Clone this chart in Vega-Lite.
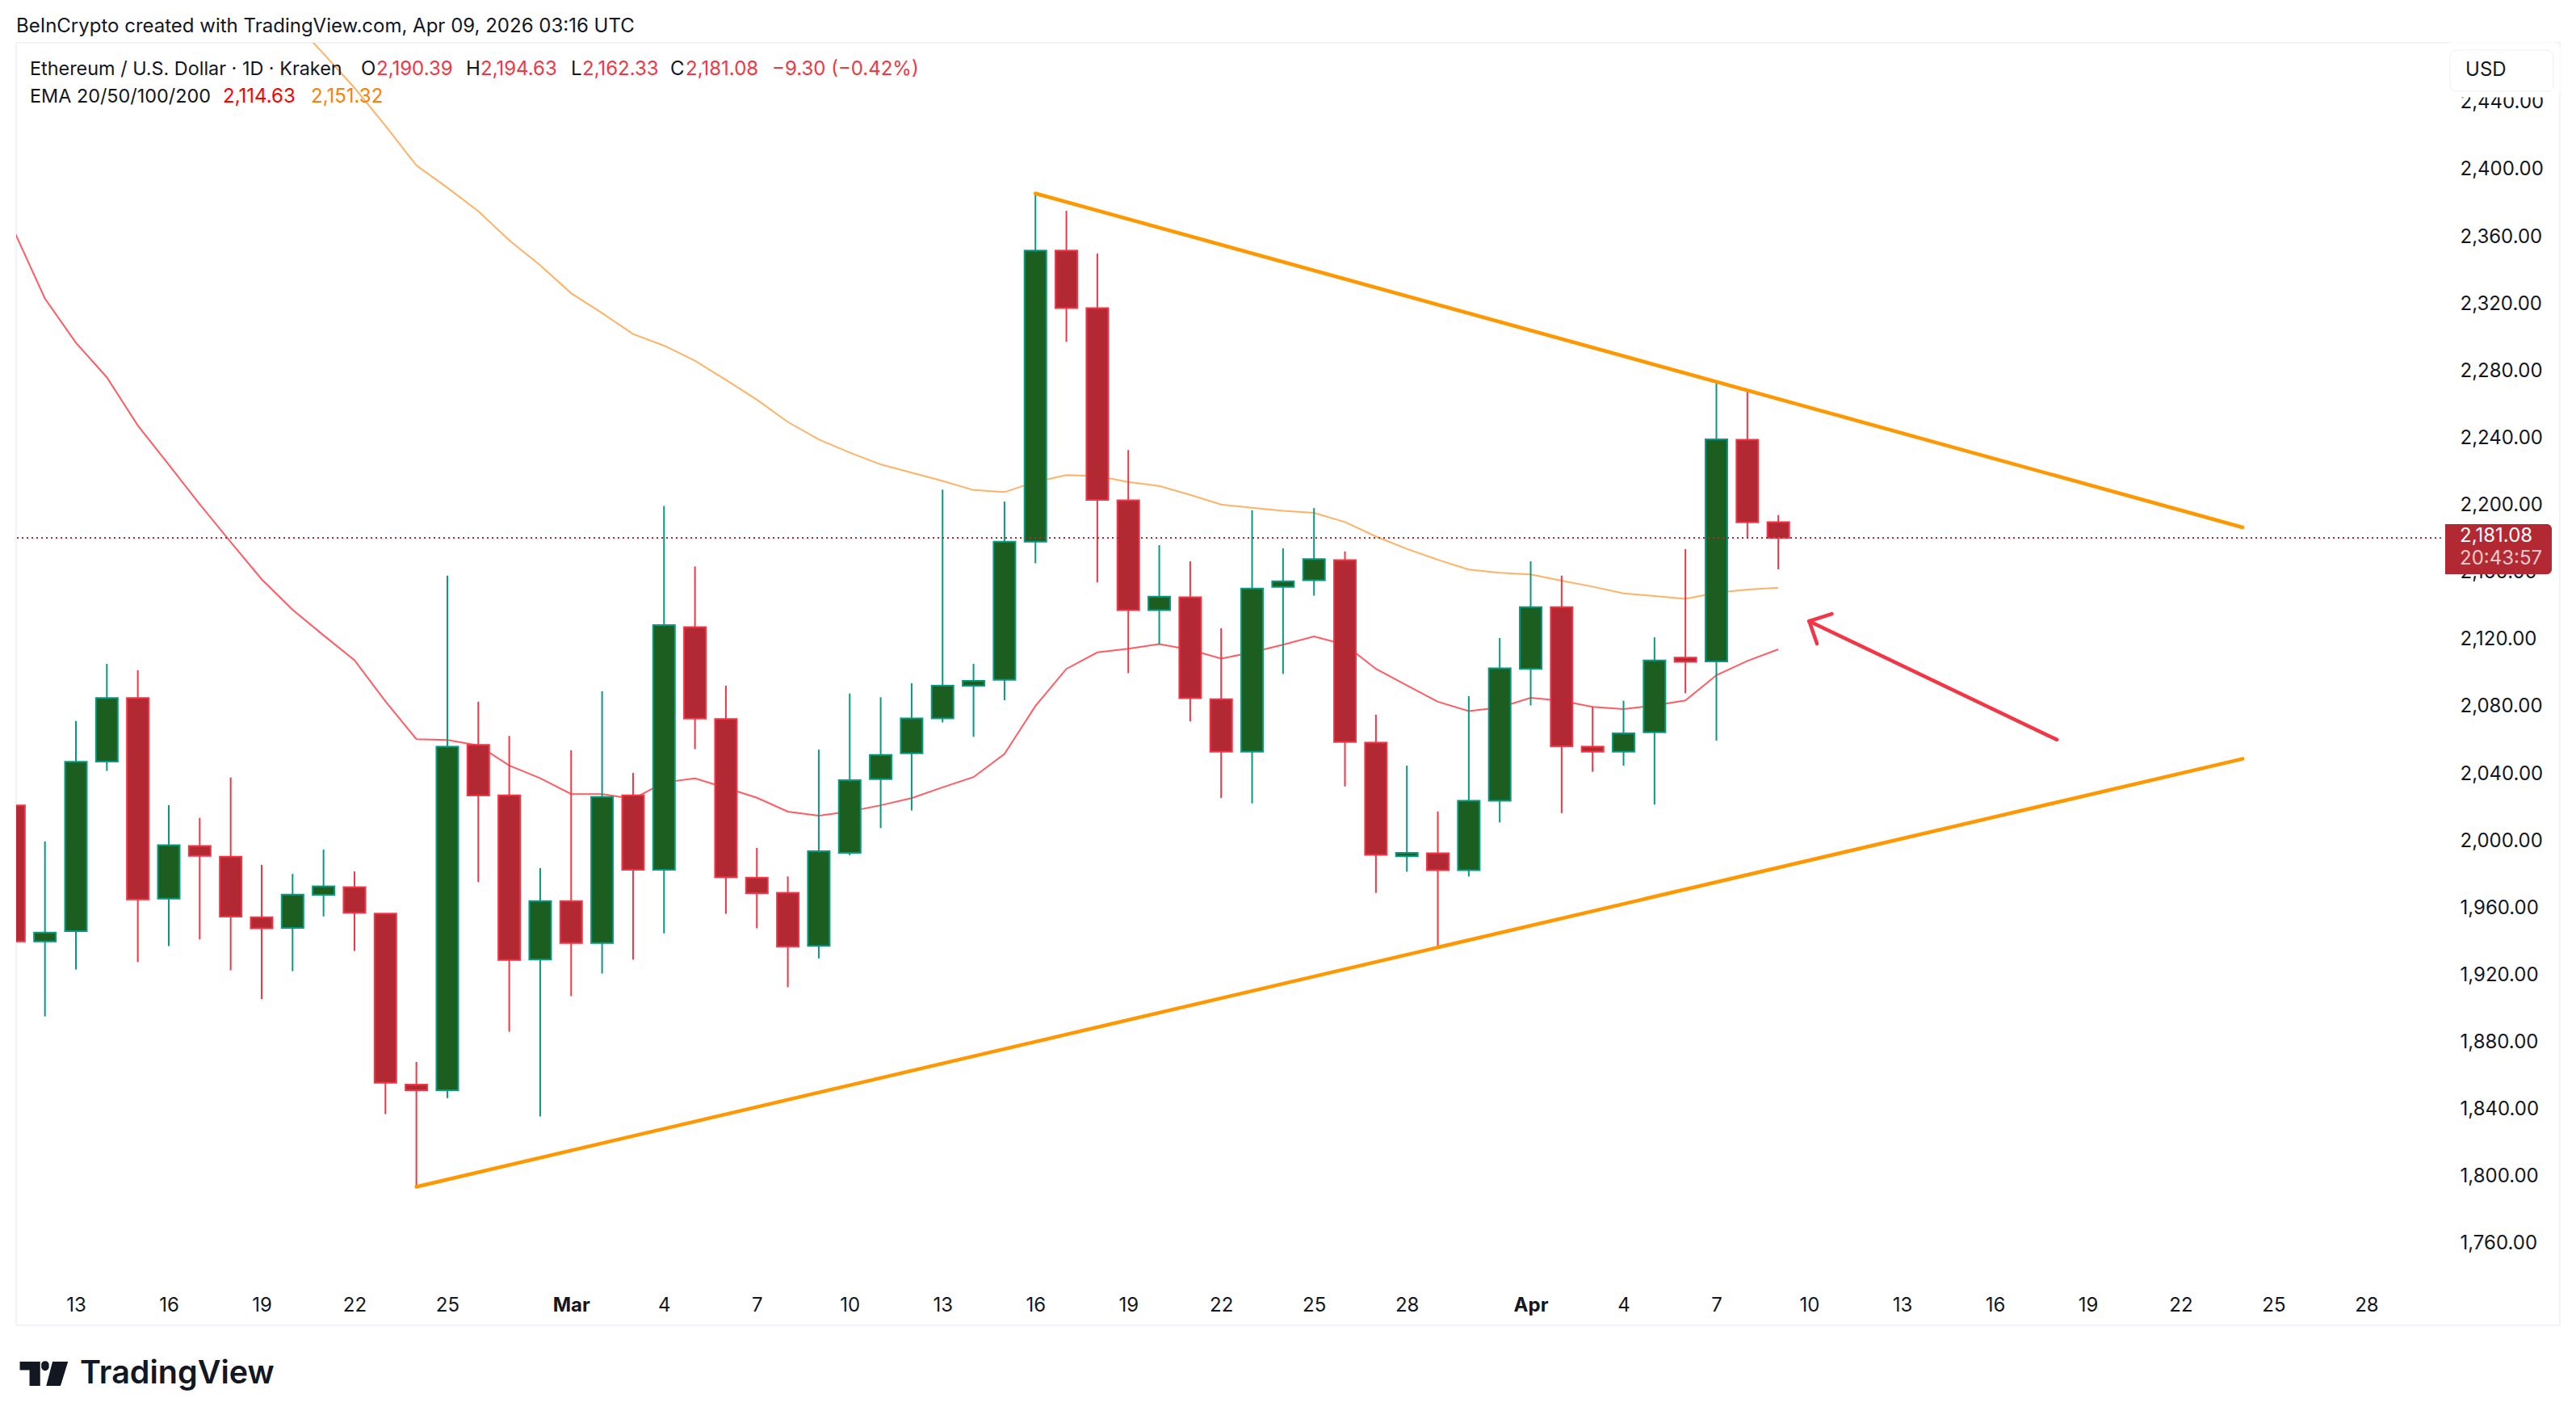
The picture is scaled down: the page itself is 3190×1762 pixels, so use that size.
{"$schema":"https://vega.github.io/schema/vega-lite/v6.json","width":3150,"height":1588,"autosize":{"type":"none"},"padding":{"left":20,"top":53,"right":20,"bottom":121},"background":"#ffffff","view":{"stroke":"#f0f3fa","strokeWidth":2,"fill":"#ffffff"},"title":{"text":"BeInCrypto created with TradingView.com, Apr 09, 2026 03:16 UTC","anchor":"start","frame":"group","offset":8,"font":"Inter","fontSize":24,"fontWeight":"normal","color":"#131722"},
"resolve":{"scale":{"color":"independent"}},
"datasets":{
"candles":[
{"date":"2026-02-11","open":2021.6,"high":2041,"low":1926,"close":1940.5},
{"date":"2026-02-12","open":1940.5,"high":2000.2,"low":1895.9,"close":1945.9},
{"date":"2026-02-13","open":1946.7,"high":2071.9,"low":1923.8,"close":2047.6},
{"date":"2026-02-14","open":2047.8,"high":2106,"low":2042.2,"close":2085.6},
{"date":"2026-02-15","open":2085.6,"high":2102.1,"low":1928.3,"close":1965.6},
{"date":"2026-02-16","open":1966.1,"high":2021.8,"low":1937.8,"close":1998},
{"date":"2026-02-17","open":1997.5,"high":2014.2,"low":1941.8,"close":1991.6},
{"date":"2026-02-18","open":1991.1,"high":2038.3,"low":1923.4,"close":1955.3},
{"date":"2026-02-19","open":1955,"high":1986.2,"low":1906.2,"close":1948.4},
{"date":"2026-02-20","open":1948.6,"high":1980.8,"low":1922.9,"close":1968.5},
{"date":"2026-02-21","open":1968.3,"high":1995.3,"low":1955.5,"close":1973.4},
{"date":"2026-02-22","open":1972.9,"high":1982.3,"low":1934.9,"close":1957.7},
{"date":"2026-02-23","open":1957.2,"high":1957.2,"low":1837.7,"close":1856.3},
{"date":"2026-02-24","open":1855.3,"high":1868.8,"low":1794.4,"close":1851.9},
{"date":"2026-02-25","open":1851.9,"high":2158.6,"low":1847.2,"close":2056.7},
{"date":"2026-02-26","open":2057.7,"high":2083.4,"low":1975.9,"close":2027.5},
{"date":"2026-02-27","open":2027.7,"high":2063,"low":1886.8,"close":1929.5},
{"date":"2026-02-28","open":1929.9,"high":1984.2,"low":1836.2,"close":1964.6},
{"date":"2026-03-01","open":1964.6,"high":2054.5,"low":1907.9,"close":1939.6},
{"date":"2026-03-02","open":1939.6,"high":2089.6,"low":1921.4,"close":2026.7},
{"date":"2026-03-03","open":2027.7,"high":2041,"low":1929.7,"close":1983.3},
{"date":"2026-03-04","open":1983.3,"high":2200,"low":1945.4,"close":2129.1},
{"date":"2026-03-05","open":2127.9,"high":2164,"low":2055.2,"close":2073.4},
{"date":"2026-03-06","open":2073.1,"high":2093,"low":1957,"close":1978.8},
{"date":"2026-03-07","open":1978.6,"high":1996.3,"low":1948.4,"close":1969.3},
{"date":"2026-03-08","open":1969.5,"high":1979.3,"low":1913.3,"close":1937.6},
{"date":"2026-03-09","open":1937.9,"high":2054.8,"low":1930.5,"close":1994.3},
{"date":"2026-03-10","open":1993.4,"high":2088.3,"low":1991.9,"close":2036.7},
{"date":"2026-03-11","open":2037.3,"high":2086.1,"low":2008.1,"close":2051.7},
{"date":"2026-03-12","open":2052.7,"high":2094.4,"low":2018.6,"close":2073.5},
{"date":"2026-03-13","open":2073.5,"high":2209.8,"low":2071.1,"close":2093},
{"date":"2026-03-14","open":2092.9,"high":2106,"low":2062.5,"close":2095.9},
{"date":"2026-03-15","open":2096.5,"high":2202.7,"low":2084.3,"close":2178.8},
{"date":"2026-03-16","open":2178.8,"high":2386.3,"low":2165.9,"close":2352.2},
{"date":"2026-03-17","open":2352.2,"high":2375.9,"low":2297.9,"close":2317.9},
{"date":"2026-03-18","open":2317.9,"high":2350.4,"low":2154.6,"close":2203.7},
{"date":"2026-03-19","open":2203.4,"high":2233.4,"low":2100.5,"close":2138},
{"date":"2026-03-20","open":2138,"high":2176.7,"low":2117.7,"close":2146},
{"date":"2026-03-21","open":2145.7,"high":2167.1,"low":2071.7,"close":2085.5},
{"date":"2026-03-22","open":2084.9,"high":2127.2,"low":2026,"close":2053.6},
{"date":"2026-03-23","open":2053.6,"high":2197.5,"low":2022.9,"close":2150.9},
{"date":"2026-03-24","open":2151.8,"high":2174.8,"low":2100,"close":2155.2},
{"date":"2026-03-25","open":2155.8,"high":2198.8,"low":2146.6,"close":2168.4},
{"date":"2026-03-26","open":2167.8,"high":2173,"low":2033,"close":2059.4},
{"date":"2026-03-27","open":2059.1,"high":2075.7,"low":1969.5,"close":1992.2},
{"date":"2026-03-28","open":1991.3,"high":2045.3,"low":1982.1,"close":1993.4},
{"date":"2026-03-29","open":1993.1,"high":2018,"low":1936.6,"close":1983},
{"date":"2026-03-30","open":1983,"high":2086.7,"low":1979.3,"close":2024.4},
{"date":"2026-03-31","open":2024.4,"high":2121.4,"low":2011.5,"close":2103.3},
{"date":"2026-04-01","open":2103,"high":2167.1,"low":2081.2,"close":2139.8},
{"date":"2026-04-02","open":2139.8,"high":2158.5,"low":2017.1,"close":2056.9},
{"date":"2026-04-03","open":2056.6,"high":2080.4,"low":2041.7,"close":2053.6},
{"date":"2026-04-04","open":2053.6,"high":2084,"low":2045.3,"close":2064.6},
{"date":"2026-04-05","open":2065.2,"high":2121.8,"low":2022.1,"close":2108},
{"date":"2026-04-06","open":2109.7,"high":2174.3,"low":2088.4,"close":2107.2},
{"date":"2026-04-07","open":2107.4,"high":2273.5,"low":2060.2,"close":2239.8},
{"date":"2026-04-08","open":2239.5,"high":2269.9,"low":2181,"close":2190.3},
{"date":"2026-04-09","open":2190.39,"high":2194.63,"low":2162.33,"close":2181.08}
],
"ema":[
{"series":"EMA 20","date":"2026-02-11","price":2364},{"series":"EMA 20","date":"2026-02-12","price":2323.6},{"series":"EMA 20","date":"2026-02-13","price":2297.3},{"series":"EMA 20","date":"2026-02-14","price":2276.7},{"series":"EMA 20","date":"2026-02-15","price":2248},{"series":"EMA 20","date":"2026-02-16","price":2224.7},{"series":"EMA 20","date":"2026-02-17","price":2201.1},{"series":"EMA 20","date":"2026-02-18","price":2178.6},{"series":"EMA 20","date":"2026-02-19","price":2156.4},{"series":"EMA 20","date":"2026-02-20","price":2138.2},{"series":"EMA 20","date":"2026-02-21","price":2123},{"series":"EMA 20","date":"2026-02-22","price":2108.2},{"series":"EMA 20","date":"2026-02-23","price":2083.7},{"series":"EMA 20","date":"2026-02-24","price":2061.1},{"series":"EMA 20","date":"2026-02-25","price":2060.6},{"series":"EMA 20","date":"2026-02-26","price":2057.4},{"series":"EMA 20","date":"2026-02-27","price":2045.4},{"series":"EMA 20","date":"2026-02-28","price":2037.8},{"series":"EMA 20","date":"2026-03-01","price":2028.4},{"series":"EMA 20","date":"2026-03-02","price":2028.4},{"series":"EMA 20","date":"2026-03-03","price":2025.5},{"series":"EMA 20","date":"2026-03-04","price":2035.3},{"series":"EMA 20","date":"2026-03-05","price":2037.8},{"series":"EMA 20","date":"2026-03-06","price":2032.1},{"series":"EMA 20","date":"2026-03-07","price":2026.2},{"series":"EMA 20","date":"2026-03-08","price":2017.9},{"series":"EMA 20","date":"2026-03-09","price":2015.5},{"series":"EMA 20","date":"2026-03-10","price":2018},{"series":"EMA 20","date":"2026-03-11","price":2021.7},{"series":"EMA 20","date":"2026-03-12","price":2026},{"series":"EMA 20","date":"2026-03-13","price":2032.4},{"series":"EMA 20","date":"2026-03-14","price":2038.5},{"series":"EMA 20","date":"2026-03-15","price":2052.3},{"series":"EMA 20","date":"2026-03-16","price":2080.9},{"series":"EMA 20","date":"2026-03-17","price":2103},{"series":"EMA 20","date":"2026-03-18","price":2112.8},{"series":"EMA 20","date":"2026-03-19","price":2115},{"series":"EMA 20","date":"2026-03-20","price":2117.7},{"series":"EMA 20","date":"2026-03-21","price":2114.4},{"series":"EMA 20","date":"2026-03-22","price":2109.1},{"series":"EMA 20","date":"2026-03-23","price":2112.8},{"series":"EMA 20","date":"2026-03-24","price":2117.4},{"series":"EMA 20","date":"2026-03-25","price":2122.3},{"series":"EMA 20","date":"2026-03-26","price":2117.4},{"series":"EMA 20","date":"2026-03-27","price":2103},{"series":"EMA 20","date":"2026-03-28","price":2093.2},{"series":"EMA 20","date":"2026-03-29","price":2083.4},{"series":"EMA 20","date":"2026-03-30","price":2077.8},{"series":"EMA 20","date":"2026-03-31","price":2080},{"series":"EMA 20","date":"2026-04-01","price":2085.8},{"series":"EMA 20","date":"2026-04-02","price":2084},{"series":"EMA 20","date":"2026-04-03","price":2080.3},{"series":"EMA 20","date":"2026-04-04","price":2079},{"series":"EMA 20","date":"2026-04-05","price":2081.2},{"series":"EMA 20","date":"2026-04-06","price":2084.2},{"series":"EMA 20","date":"2026-04-07","price":2099.2},{"series":"EMA 20","date":"2026-04-08","price":2107.7},{"series":"EMA 20","date":"2026-04-09","price":2114.63},
{"series":"EMA 50","date":"2026-02-20","price":2489},{"series":"EMA 50","date":"2026-02-21","price":2469.6},{"series":"EMA 50","date":"2026-02-22","price":2449.2},{"series":"EMA 50","date":"2026-02-23","price":2426.7},{"series":"EMA 50","date":"2026-02-24","price":2403},{"series":"EMA 50","date":"2026-02-25","price":2389.7},{"series":"EMA 50","date":"2026-02-26","price":2375.7},{"series":"EMA 50","date":"2026-02-27","price":2358.4},{"series":"EMA 50","date":"2026-02-28","price":2343.5},{"series":"EMA 50","date":"2026-03-01","price":2326.8},{"series":"EMA 50","date":"2026-03-02","price":2315},{"series":"EMA 50","date":"2026-03-03","price":2302.5},{"series":"EMA 50","date":"2026-03-04","price":2295.6},{"series":"EMA 50","date":"2026-03-05","price":2286.6},{"series":"EMA 50","date":"2026-03-06","price":2275.2},{"series":"EMA 50","date":"2026-03-07","price":2263.4},{"series":"EMA 50","date":"2026-03-08","price":2250.1},{"series":"EMA 50","date":"2026-03-09","price":2239.7},{"series":"EMA 50","date":"2026-03-10","price":2231.9},{"series":"EMA 50","date":"2026-03-11","price":2224.8},{"series":"EMA 50","date":"2026-03-12","price":2219.9},{"series":"EMA 50","date":"2026-03-13","price":2215},{"series":"EMA 50","date":"2026-03-14","price":2209.5},{"series":"EMA 50","date":"2026-03-15","price":2208.3},{"series":"EMA 50","date":"2026-03-16","price":2214.4},{"series":"EMA 50","date":"2026-03-17","price":2218.4},{"series":"EMA 50","date":"2026-03-18","price":2217.8},{"series":"EMA 50","date":"2026-03-19","price":2214.4},{"series":"EMA 50","date":"2026-03-20","price":2212},{"series":"EMA 50","date":"2026-03-21","price":2206.7},{"series":"EMA 50","date":"2026-03-22","price":2200.9},{"series":"EMA 50","date":"2026-03-23","price":2199},{"series":"EMA 50","date":"2026-03-24","price":2197.2},{"series":"EMA 50","date":"2026-03-25","price":2196},{"series":"EMA 50","date":"2026-03-26","price":2190.5},{"series":"EMA 50","date":"2026-03-27","price":2181.9},{"series":"EMA 50","date":"2026-03-28","price":2174.5},{"series":"EMA 50","date":"2026-03-29","price":2168},{"series":"EMA 50","date":"2026-03-30","price":2162.2},{"series":"EMA 50","date":"2026-03-31","price":2160.2},{"series":"EMA 50","date":"2026-04-01","price":2159.3},{"series":"EMA 50","date":"2026-04-02","price":2155.5},{"series":"EMA 50","date":"2026-04-03","price":2152},{"series":"EMA 50","date":"2026-04-04","price":2148},{"series":"EMA 50","date":"2026-04-05","price":2146.4},{"series":"EMA 50","date":"2026-04-06","price":2144.7},{"series":"EMA 50","date":"2026-04-07","price":2148.3},{"series":"EMA 50","date":"2026-04-08","price":2150.3},{"series":"EMA 50","date":"2026-04-09","price":2151.32}
],
"segments":[
{"kind":"trend","date":"2026-03-16","price":2386.3,"date2":"2026-04-24","price2":2187.3},
{"kind":"trend","date":"2026-02-24","price":1794.4,"date2":"2026-04-24","price2":2049.4},
{"kind":"arrow","date":"2026-04-18","price":2060.8,"date2":"2026-04-10","price2":2131.4},
{"kind":"arrow","date":"2026-04-10","price":2131.4,"date2":"2026-04-10T17:30:00Z","price2":2135.8},
{"kind":"arrow","date":"2026-04-10","price":2131.4,"date2":"2026-04-10T06:00:00Z","price2":2118}
],
"lastprice":[{"date":"2026-02-10","date2":"2026-04-30T09:50:00Z","price":2181.08}],
"boxes":[
{"box":"mask","date":1777554355806,"date2":1777874400000,"price":2476.03,"price2":2443.76},
{"box":"button","date":1777567880460,"date2":1777856406412,"price":2471.66,"price2":2447.16}
],
"pricetag":[{"date":1777554355806,"date2":1777851898194,"price":2189.26,"price2":2159.36}],
"labels":[
{"role":"ink","label":"O","date":1771736500477,"price":2460.16},
{"role":"down","label":"2,190.39","date":1771779328548,"price":2460.16},
{"role":"ink","label":"H","date":1772029534647,"price":2460.16},
{"role":"down","label":"2,194.63","date":1772070108609,"price":2460.16},
{"role":"ink","label":"L","date":1772322568817,"price":2460.16},
{"role":"down","label":"2,162.33","date":1772354126343,"price":2460.16},
{"role":"ink","label":"C","date":1772599824224,"price":2460.16},
{"role":"down","label":"2,181.08","date":1772642652295,"price":2460.16},
{"role":"down","label":"−9.30 (−0.42%)","date":1772883841958,"price":2460.16},
{"role":"ema20","label":"2,114.63","date":1771351047838,"price":2443.76},
{"role":"ema50","label":"2,151.32","date":1771596745719,"price":2443.76},
{"role":"ink","label":"USD","date":1777610708531,"price":2459.66},
{"role":"tagprice","label":"2,181.08","date":1777594929768,"price":2181.96},
{"role":"tagtimer","label":"20:43:57","date":1777594929768,"price":2168.56}
],
"legendnames":[
{"label":"Ethereum / U.S. Dollar · 1D · Kraken","date":1770812315787,"price":2460.16},
{"label":"EMA 20/50/100/200","date":1770812315787,"price":2443.76}
],
"brand":[{"label":"TradingView","date":1770952070545,"price":1682.96}],
"brandmark":[{"date":1770851199167,"price":1682.96}]
},
"encoding":{
"x":{"field":"date","type":"temporal","title":null,"scale":{"type":"utc","domain":[1770773996000,1777874400000],"padding":0,"nice":false},"axis":{"orient":"bottom","offset":-25,"values":[1770940800000,1771200000000,1771459200000,1771718400000,1771977600000,1772323200000,1772582400000,1772841600000,1773100800000,1773360000000,1773619200000,1773878400000,1774137600000,1774396800000,1774656000000,1775001600000,1775260800000,1775520000000,1775779200000,1776038400000,1776297600000,1776556800000,1776816000000,1777075200000,1777334400000],"labelExpr":"utcdate(datum.value)==1 ? utcFormat(datum.value,'%b') : utcFormat(datum.value,'%-d')","labelFontWeight":{"condition":{"test":"utcdate(datum.value)==1","value":"bold"},"value":"normal"},"labelFont":"Inter","labelFontSize":24,"labelColor":"#131722","labelBaseline":"middle","labelPadding":0,"labelOverlap":false,"labelFlush":false,"labelBound":false,"domain":false,"ticks":false,"grid":false,"title":null}},
"y":{"field":"price","type":"quantitative","title":null,"scale":{"domain":[1711.86,2476.03],"nice":false,"zero":false},"axis":{"orient":"right","offset":-124,"values":[1760,1800,1840,1880,1920,1960,2000,2040,2080,2120,2160,2200,2240,2280,2320,2360,2400,2440],"format":",.2f","labelFont":"Inter","labelFontSize":24,"labelColor":"#131722","labelAlign":"left","labelPadding":0,"labelOffset":-1,"labelOverlap":false,"labelBound":false,"domain":false,"ticks":false,"grid":false,"title":null}}
},
"layer":[
{"data":{"name":"ema"},"mark":{"type":"line","strokeWidth":2,"clip":true,"interpolate":"linear"},"encoding":{"color":{"field":"series","type":"nominal","legend":null,"scale":{"domain":["EMA 20","EMA 50"],"range":["#ff5c64","#ffb266"]}}}},
{"data":{"name":"candles"},"mark":{"type":"rule","strokeWidth":2,"clip":true},"encoding":{"y":{"field":"high","type":"quantitative","title":null,"axis":{"orient":"right","offset":-124,"values":[1760,1800,1840,1880,1920,1960,2000,2040,2080,2120,2160,2200,2240,2280,2320,2360,2400,2440],"format":",.2f","labelFont":"Inter","labelFontSize":24,"labelColor":"#131722","labelAlign":"left","labelPadding":0,"labelOffset":-1,"labelOverlap":false,"labelBound":false,"domain":false,"ticks":false,"grid":false,"title":null},"scale":{"domain":[1711.86,2476.03],"nice":false,"zero":false}},"y2":{"field":"low"},"stroke":{"condition":{"test":"datum.close>=datum.open","value":"#089981"},"value":"#f23645"}}},
{"data":{"name":"candles"},"mark":{"type":"bar","width":27,"strokeWidth":2,"clip":true},"encoding":{"y":{"field":"open","type":"quantitative","title":null,"axis":{"orient":"right","offset":-124,"values":[1760,1800,1840,1880,1920,1960,2000,2040,2080,2120,2160,2200,2240,2280,2320,2360,2400,2440],"format":",.2f","labelFont":"Inter","labelFontSize":24,"labelColor":"#131722","labelAlign":"left","labelPadding":0,"labelOffset":-1,"labelOverlap":false,"labelBound":false,"domain":false,"ticks":false,"grid":false,"title":null},"scale":{"domain":[1711.86,2476.03],"nice":false,"zero":false}},"y2":{"field":"close"},"fill":{"condition":{"test":"datum.close>=datum.open","value":"#1b5e20"},"value":"#b22833"},"stroke":{"condition":{"test":"datum.close>=datum.open","value":"#089981"},"value":"#f23645"}}},
{"data":{"name":"lastprice"},"mark":{"type":"rule","strokeWidth":2,"strokeDash":[2,4],"color":"#b22833","clip":true},"encoding":{"x2":{"field":"date2"}}},
{"data":{"name":"segments"},"mark":{"type":"rule","strokeWidth":4.5,"strokeCap":"round"},"encoding":{"x2":{"field":"date2"},"y2":{"field":"price2"},"color":{"field":"kind","type":"nominal","legend":null,"scale":{"domain":["trend","arrow"],"range":["#ff9800","#f23645"]}}}},
{"data":{"name":"boxes"},"mark":{"type":"rect","cornerRadius":8},"encoding":{"x2":{"field":"date2"},"y2":{"field":"price2"},"fill":{"value":"#ffffff"},"stroke":{"field":"box","type":"nominal","legend":null,"scale":{"domain":["mask","button"],"range":["#ffffff","#eceef3"]}}}},
{"data":{"name":"pricetag"},"mark":{"type":"rect","cornerRadiusTopRight":6,"cornerRadiusBottomRight":6,"color":"#b22833"},"encoding":{"x2":{"field":"date2"},"y2":{"field":"price2"}}},
{"data":{"name":"legendnames"},"mark":{"type":"text","align":"left","baseline":"middle","font":"Inter","fontSize":23.4,"color":"#131722","clip":false},"encoding":{"text":{"field":"label"}}},
{"data":{"name":"labels"},"mark":{"type":"text","align":"left","baseline":"middle","font":"Inter","fontSize":24,"clip":false},"encoding":{"text":{"field":"label"},"color":{"field":"role","type":"nominal","legend":null,"scale":{"domain":["ink","down","ema20","ema50","tagprice","tagtimer"],"range":["#131722","#f23645","#ff0000","#ff7f00","#ffffff","#f2c8cb"]}}}},
{"data":{"name":"brand"},"mark":{"type":"text","align":"left","baseline":"middle","font":"Inter","fontSize":39.5,"fontWeight":600,"color":"#131722","clip":false},"encoding":{"text":{"field":"label"}}},
{"data":{"name":"brandmark"},"mark":{"type":"point","filled":true,"size":3600,"color":"#131722","opacity":1,"shape":"M-0.99,-0.5 H-0.15 V0.5 H-0.59 V-0.15 H-0.99 Z M-0.1,-0.33 A0.16,0.16 0 1 1 0.21,-0.33 A0.16,0.16 0 1 1 -0.1,-0.33 Z M0.36,-0.5 H1 L0.69,0.5 H0.1 Z","clip":false}}
]
}
